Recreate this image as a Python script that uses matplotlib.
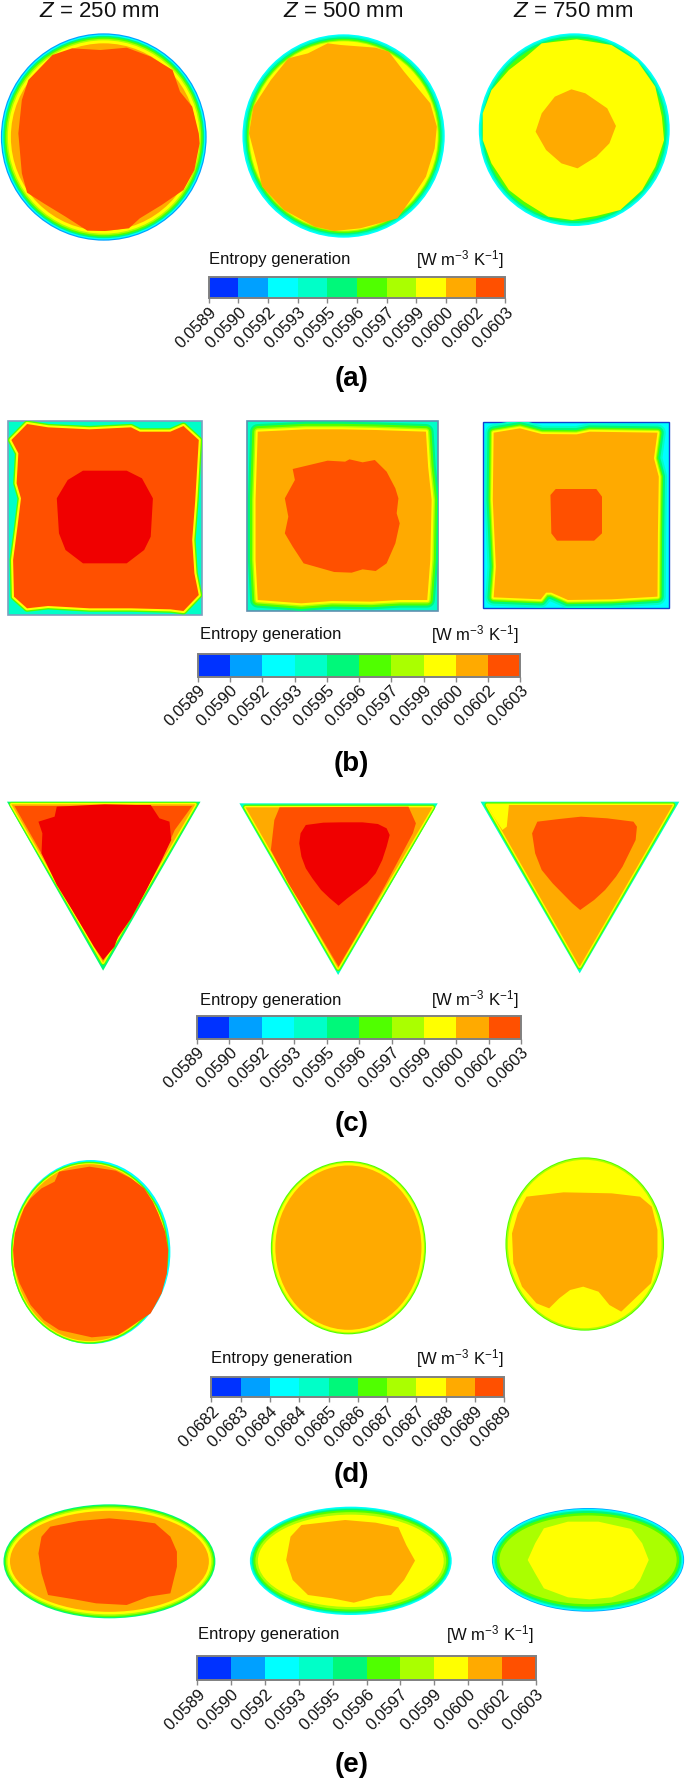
import matplotlib
matplotlib.use("Agg")
import matplotlib.pyplot as plt
import numpy as np
from matplotlib.cm import ScalarMappable
from matplotlib.colors import BoundaryNorm, ListedColormap
from matplotlib.patches import Ellipse, Polygon, Rectangle

plt.rcParams['font.family'] = ['Liberation Sans', 'DejaVu Sans']
plt.rcParams['mathtext.fontset'] = 'custom'
plt.rcParams['mathtext.rm'] = 'Liberation Sans'
plt.rcParams['mathtext.it'] = 'Liberation Sans:italic'

# ======= LEVEL COLOURS (colour bar order, plus the red peak core) =======
levels = ['#0032ff', '#00a0ff', '#00ffff', '#00ffc8', '#00f87a', '#50ff00',
          '#aaff00', '#ffff00', '#ffaa00', '#ff5000', '#f00000']

labels_main = ['0.0589', '0.0590', '0.0592', '0.0593', '0.0595', '0.0596',
               '0.0597', '0.0599', '0.0600', '0.0602', '0.0603']
labels_d = ['0.0682', '0.0683', '0.0684', '0.0684', '0.0685', '0.0686',
            '0.0687', '0.0687', '0.0688', '0.0689', '0.0689']
z_labels = ['250', '500', '750']

# ======= CONTOUR OUTLINES, traced units (x 1568 wide, y 3 per pixel) =======
a1_core = [(165, 145), (230, 150), (290, 143), (345, 170), (395, 210), (412, 275), (440, 320), (455, 400),
           (457, 430), (445, 510), (420, 570), (370, 615), (320, 655), (295, 685), (240, 693), (200, 692),
           (150, 650), (100, 610), (62, 578), (50, 520), (42, 400), (50, 300), (65, 240), (120, 165)]
a2_core = [(750, 130), (780, 135), (860, 143), (890, 155), (925, 215), (985, 310), (1000, 380), (995, 445),
           (975, 530), (945, 590), (910, 655), (825, 685), (765, 693), (720, 680), (650, 630), (600, 560),
           (590, 500), (570, 400), (580, 320), (620, 240), (660, 175), (705, 160)]
a3_yellow = [(1240, 130), (1320, 118), (1400, 135), (1460, 185), (1500, 260), (1515, 350), (1520, 420),
             (1500, 500), (1470, 570), (1420, 630), (1365, 648), (1310, 660), (1255, 650), (1200, 605),
             (1165, 570), (1125, 490), (1105, 420), (1105, 340), (1125, 270), (1165, 210), (1200, 175)]
a3_core = [(1308, 268), (1340, 280), (1390, 325), (1410, 378), (1395, 430), (1365, 470), (1322, 505),
           (1285, 490), (1250, 450), (1226, 395), (1240, 340), (1270, 290)]

b1_main = [(62, 72), (110, 82), (205, 88), (300, 82), (320, 95), (390, 95), (420, 78), (455, 120), (447, 300),
           (440, 420), (445, 520), (455, 585), (420, 633), (390, 628), (300, 625), (205, 625), (110, 618),
           (62, 625), (32, 590), (30, 480), (40, 380), (48, 295), (38, 250), (42, 160), (26, 120)]
b1_core = [(190, 212), (290, 212), (325, 235), (350, 295), (345, 410), (330, 450), (290, 490), (190, 490),
           (150, 450), (135, 400), (130, 295), (155, 240)]
b2_main = [(590, 95), (700, 88), (780, 88), (860, 90), (975, 95), (980, 200), (988, 300), (985, 480),
           (978, 600), (915, 600), (850, 605), (760, 603), (690, 610), (590, 600), (585, 480), (585, 300)]
b2_core = [(670, 207), (750, 182), (790, 185), (800, 178), (830, 187), (858, 180), (885, 215), (905, 265),
           (912, 295), (908, 340), (915, 370), (905, 430), (885, 490), (860, 513), (830, 508), (805, 518),
           (765, 516), (695, 490), (670, 440), (652, 400), (660, 350), (652, 295), (675, 240)]
b3_main = [(1130, 98), (1190, 85), (1240, 102), (1320, 103), (1350, 95), (1505, 98), (1497, 175), (1508, 230),
           (1506, 400), (1505, 590), (1400, 598), (1300, 600), (1262, 578), (1250, 578), (1238, 598),
           (1130, 592), (1135, 500), (1128, 300)]
b3_core = [(1272, 267), (1365, 267), (1378, 290), (1378, 400), (1360, 422), (1275, 422), (1262, 400), (1260, 285)]

c1_edge = [(16, 35), (459, 35), (236, 542)]
c1_orange = [(26, 43), (447, 43), (236, 518)]
c1_main = [(33, 48), (440, 48), (400, 120), (370, 210), (300, 385), (236, 510), (170, 370), (95, 190), (60, 110)]
c1_core = [(130, 50), (240, 43), (310, 45), (345, 45), (365, 85), (388, 95), (392, 150), (370, 210), (335, 300),
           (300, 385), (270, 440), (262, 470), (236, 510), (215, 470), (170, 370), (130, 285), (95, 190),
           (97, 130), (88, 95), (125, 80)]
c2_edge = [(548, 40), (1002, 40), (774, 555)]
c2_orange = [(562, 52), (990, 52), (774, 535)]
c2_main = [(640, 52), (935, 50), (952, 100), (945, 130), (880, 290), (815, 440), (775, 530), (725, 420),
           (660, 280), (620, 180), (628, 90)]
c2_core = [(700, 105), (740, 98), (780, 97), (830, 97), (865, 102), (885, 115), (892, 135), (885, 170),
           (875, 210), (860, 250), (840, 280), (820, 300), (795, 325), (775, 347), (755, 325), (735, 300),
           (715, 265), (700, 235), (690, 200), (685, 160), (688, 130)]
c3_edge = [(1100, 35), (1555, 35), (1327, 550)]
c3_orange = [(1115, 45), (1540, 45), (1327, 530)]
c3_yellow = [(1115, 45), (1165, 45), (1160, 110), (1150, 120), (1130, 80)]
c3_core = [(1230, 95), (1280, 87), (1330, 80), (1390, 85), (1450, 95), (1458, 110), (1455, 150), (1440, 190),
           (1425, 230), (1410, 260), (1385, 300), (1360, 330), (1328, 360), (1310, 340), (1295, 320),
           (1265, 280), (1240, 240), (1225, 190), (1218, 130)]

d1_core = [(135, 65), (205, 50), (265, 62), (300, 85), (330, 115), (350, 155), (362, 190), (378, 245), (385, 300),
           (382, 370), (370, 430), (345, 490), (305, 525), (270, 555), (210, 562), (135, 540), (100, 510),
           (70, 465), (45, 400), (33, 350), (30, 300), (34, 250), (45, 210), (55, 175), (70, 145), (95, 115),
           (125, 95)]
d3_core = [(1205, 140), (1290, 127), (1400, 130), (1465, 140), (1492, 170), (1505, 240), (1505, 320), (1490, 400),
           (1450, 450), (1422, 485), (1395, 465), (1370, 425), (1335, 410), (1305, 420), (1280, 445), (1257, 475),
           (1228, 460), (1195, 410), (1175, 340), (1172, 250), (1185, 190)]

e1_core = [(115, 140), (180, 123), (250, 115), (310, 122), (355, 130), (390, 170), (405, 215), (405, 260),
           (390, 340), (340, 350), (290, 375), (220, 370), (170, 358), (110, 345), (95, 280), (88, 220), (95, 170)]
e2_core = [(690, 135), (790, 120), (860, 128), (912, 142), (930, 195), (950, 242), (925, 300), (895, 345),
           (860, 350), (810, 368), (760, 355), (705, 345), (670, 300), (655, 240), (665, 170)]
e3_core = [(1245, 145), (1300, 125), (1370, 125), (1445, 147), (1470, 190), (1485, 240), (1465, 300), (1450, 325),
           (1400, 352), (1350, 358), (1300, 352), (1245, 325), (1225, 280), (1208, 240), (1225, 190)]

fig = plt.figure(figsize=(6.85, 17.78), dpi=100)


def make_row(y0, h):
    ax = fig.add_axes([0, 1 - (y0 + h) / 1778, 1, h / 1778])
    ax.set_xlim(0, 1568)
    ax.set_ylim(h * 3, 0)
    ax.axis('off')
    return ax


def rings(ax, cx, cy, rx, ry, bands):
    # nested ellipses, outermost first; inset is the band depth in pixels
    for lvl, inset in bands:
        ax.add_patch(Ellipse((cx, cy), 2 * (rx - inset * 2.289), 2 * (ry - inset * 3), fc=levels[lvl], ec='none'))


def region(ax, pts, lvl, halo=(), clip=None):
    # halo = wider strokes under the fill, they make the thin transition bands
    for lw, hl in halo:
        p = Polygon(pts, closed=True, fc='none', ec=levels[hl], lw=lw, joinstyle='round')
        ax.add_patch(p)
        if clip is not None:
            p.set_clip_path(clip)
    ax.add_patch(Polygon(pts, closed=True, fc=levels[lvl], ec='none'))


def legend(ax, y0, x0, x1, ytop, ybot, ytxt, xleft, xright, ticklabels, ylab, name):
    cax = fig.add_axes([x0 / 1568, 1 - (y0 + ybot / 3) / 1778, (x1 - x0) / 1568, (ybot - ytop) / 3 / 1778])
    norm = BoundaryNorm(np.arange(11), 10)
    cb = fig.colorbar(ScalarMappable(norm=norm, cmap=ListedColormap(levels[:10])), cax=cax,
                      orientation='horizontal', spacing='uniform')
    cb.set_ticks(np.arange(11), labels=ticklabels)
    cb.ax.minorticks_off()
    cb.ax.tick_params(axis='x', length=3.5, width=1, color='#888888', pad=1, labelsize=12, labelcolor='#111111')
    for t in cb.ax.get_xticklabels():
        t.set_rotation(45)
        t.set_ha('right')
        t.set_va('top')
        t.set_rotation_mode('anchor')
    cb.outline.set_edgecolor('#808080')
    cb.outline.set_linewidth(1.4)
    ax.text(xleft, ytxt, 'Entropy generation', fontsize=12, ha='left', va='center', color='#111111')
    ax.text(xright, ytxt, r'[W m$^{-3}$ K$^{-1}$]', fontsize=12, ha='right', va='center', color='#111111')
    ax.text(805, ylab, name, fontsize=20, fontweight='bold', ha='center', va='center', color='black')


# ======= (a) circles =======
ax = make_row(0, 400)
for x, z in zip([228, 785, 1312], z_labels):
    ax.text(x, 50, rf'$\mathit{{Z}}$ = {z} mm', fontsize=16, ha='center', va='baseline', color='#111111')
rings(ax, 237.5, 411, 235.5, 311, [(1, 0), (2, 1.2), (4, 2.5), (5, 4), (6, 5.5), (7, 7), (8, 10)])
region(ax, a1_core, 9)
rings(ax, 786.5, 408, 231.5, 305, [(2, 0), (3, 1.5), (4, 3), (5, 4.5), (6, 6), (7, 7)])
region(ax, a2_core, 8)
rings(ax, 1314.5, 389, 218.5, 289, [(2, 0), (3, 1.5), (4, 3), (5, 5), (6, 9)])
region(ax, a3_yellow, 7)
region(ax, a3_core, 8)
legend(ax, 0, 478, 1157, 830, 895, 778, 478, 1152, labels_main, 1138, '(a)')

# ======= (b) squares =======
ax = make_row(400, 400)
r1 = Rectangle((18, 62), 444, 583, fc=levels[3], ec='#7f9fc0', lw=1.2)
ax.add_patch(r1)
region(ax, b1_main, 9, halo=[(5, 5), (3, 7)], clip=r1)
region(ax, b1_core, 10)
r2 = Rectangle((566, 62), 436, 572, fc=levels[3], ec='#6090b0', lw=1.2)
ax.add_patch(r2)
region(ax, b2_main, 8, halo=[(11, 4), (8, 5), (5, 6), (3, 7)], clip=r2)
region(ax, b2_core, 9)
r3 = Rectangle((1106, 66), 426, 559, fc=levels[2], ec='#1040d0', lw=1.0)
ax.add_patch(r3)
region(ax, b3_main, 8, halo=[(12, 3), (9, 4), (6, 5), (4, 6), (2.5, 7)], clip=r3)
region(ax, b3_core, 9)
legend(ax, 400, 453, 1191, 762, 830, 705, 458, 1187, labels_main, 1091, '(b)')

# ======= (c) triangles =======
ax = make_row(790, 360)
region(ax, c1_edge, 4)
region(ax, c1_orange, 8, halo=[(3.5, 5), (2, 7)])
region(ax, c1_main, 9)
region(ax, c1_core, 10)
region(ax, c2_edge, 3)
region(ax, c2_orange, 8, halo=[(4, 5), (2, 7)])
region(ax, c2_main, 9)
region(ax, c2_core, 10)
region(ax, c3_edge, 3)
region(ax, c3_orange, 8, halo=[(4, 5), (2, 7)])
region(ax, c3_yellow, 7)
region(ax, c3_core, 9)
legend(ax, 790, 451, 1193, 678, 746, 630, 458, 1187, labels_main, 1001, '(c)')

# ======= (d) ovals =======
ax = make_row(1150, 330)
rings(ax, 207.5, 306, 182.5, 276, [(2, 0)])
rings(ax, 205.5, 308, 182.5, 276, [(5, 1), (7, 2.5), (8, 3.5)])
region(ax, d1_core, 9)
rings(ax, 797.5, 293, 177.5, 260, [(5, 0), (6, 1), (7, 2), (8, 4.5)])
rings(ax, 1338.5, 282, 181.5, 260, [(5, 0), (6, 1), (7, 2.5)])
region(ax, d3_core, 8)
legend(ax, 1150, 484, 1154, 680, 741, 627, 482, 1152, labels_d, 974, '(d)')

# ======= (e) flat ellipses =======
ax = make_row(1480, 298)
rings(ax, 250.5, 244, 242.5, 171, [(4, 0), (5, 1.2), (6, 2.5), (7, 4), (8, 6.5)])
region(ax, e1_core, 9)
rings(ax, 803, 242.5, 231, 162.5, [(2, 0), (3, 1.2), (4, 2.2), (5, 3.5), (6, 5.5), (7, 8)])
region(ax, e2_core, 8)
rings(ax, 1346, 239.5, 220, 155.5, [(1, 0), (2, .8), (3, 2), (4, 3), (5, 5), (6, 7.5)])
region(ax, e3_core, 7)
legend(ax, 1480, 452, 1226, 528, 600, 465, 453, 1222, labels_main, 856, '(e)')

plt.savefig('out.png', dpi=100)
plt.close()
